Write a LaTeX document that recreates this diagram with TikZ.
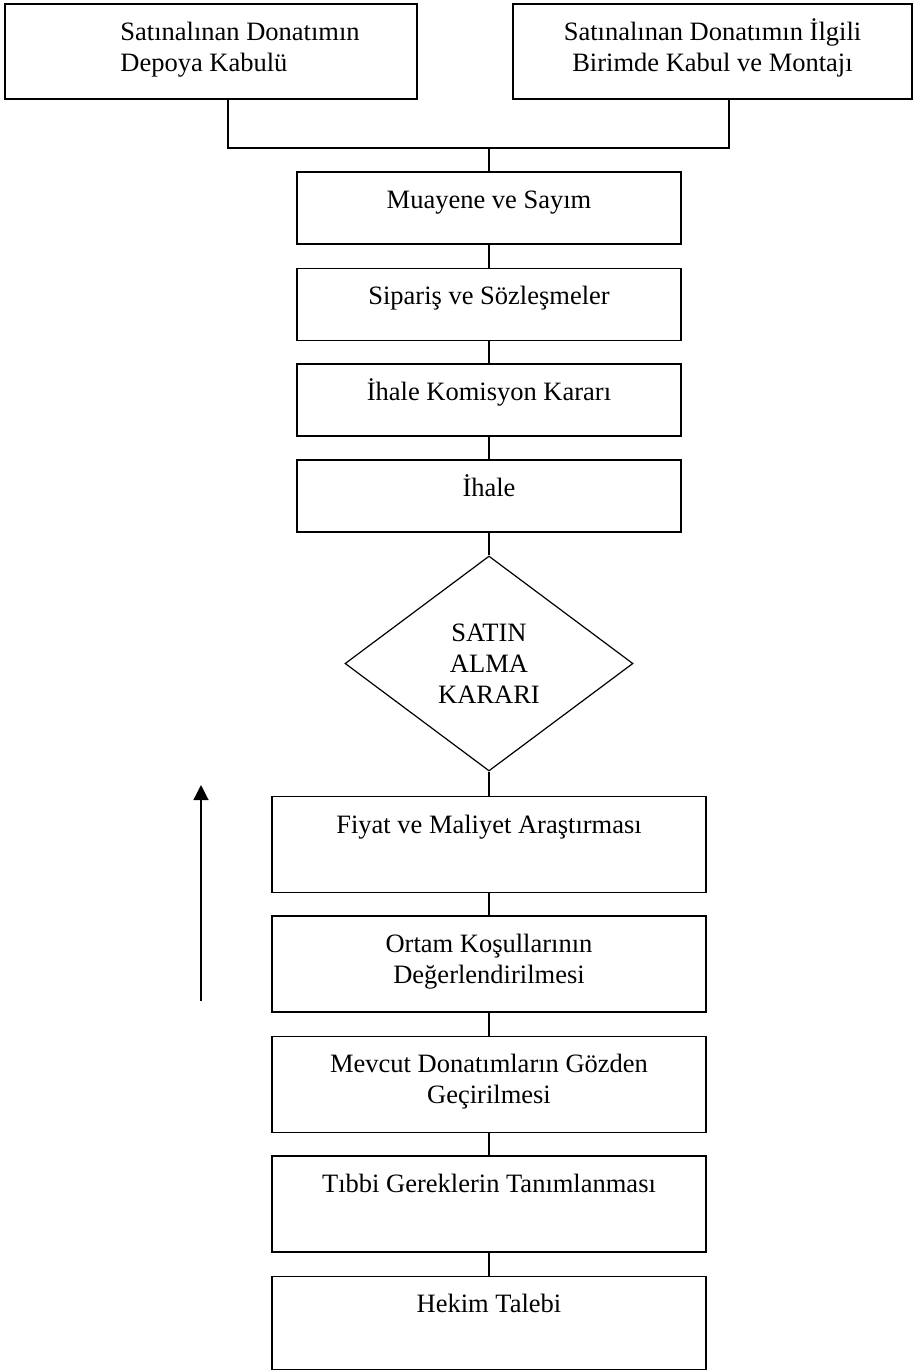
\documentclass[tikz,border=0pt]{standalone}
\usepackage{fontspec}
\setmainfont{Liberation Serif}
\usetikzlibrary{shapes.geometric,arrows.meta}
\newcommand\boxfont{\fontsize{13.25pt}{15.5pt}\selectfont}
\tikzset{
  box/.style={draw, line width=0.6pt, rectangle, inner sep=0pt},
  upbox/.style={box, minimum width=192pt, minimum height=36pt},
  lowbox/.style={box, minimum width=217pt, minimum height=48pt},
  txt/.style={anchor=north, inner sep=0pt, align=center, font=\boxfont},
  conn/.style={line width=0.6pt},
}
\begin{document}
\begin{tikzpicture}[x=0.5pt,y=-0.5pt]
\useasboundingbox (0,0) rectangle (915,1372);
% top boxes
\node[box, minimum width=206pt, minimum height=47.5pt] (L) at (211,51.5) {};
\node[box, minimum width=199.5pt, minimum height=47.5pt] (R) at (712.5,51.5) {};
\node[txt, anchor=north west, align=left] (Lt) at (120,18.3) {\strut Satınalınan Donatımın\\Depoya Kabulü};
\node[txt] (Rt) at (712.5,18.3) {\strut Satınalınan Donatımın İlgili\\Birimde Kabul ve Montajı};
% upper column
\node[upbox] (muay) at (489,208) {};
\node[txt] (muayt) at (489,186.3) {\strut Muayene ve Sayım};
\node[upbox] (sip) at (489,304.5) {};
\node[txt] (sipt) at (489,282.3) {\strut Sipariş ve Sözleşmeler};
\node[upbox] (kom) at (489,400) {};
\node[txt] (komt) at (489,378.3) {\strut İhale Komisyon Kararı};
\node[upbox] (ihale) at (489,496) {};
\node[txt] (ihalet) at (489,474.3) {\strut İhale};
% decision
\node[draw, line width=0.6pt, diamond, inner sep=0pt, minimum width=144pt, minimum height=107.5pt, align=center, font=\boxfont] (karar) at (489,663.5) {SATIN\\ALMA\\KARARI};
% lower column
\node[lowbox] (fiyat) at (489,844.5) {};
\node[txt] (fiyatt) at (489,811.3) {\strut Fiyat ve Maliyet Araştırması};
\node[lowbox] (ortam) at (489,964) {};
\node[txt] (ortamt) at (489,930.3) {\strut Ortam Koşullarının\\Değerlendirilmesi};
\node[lowbox] (mevcut) at (489,1084.5) {};
\node[txt] (mevcutt) at (489,1050.3) {\strut Mevcut Donatımların Gözden\\Geçirilmesi};
\node[lowbox] (tibbi) at (489,1204) {};
\node[txt] (tibbit) at (489,1170.3) {\strut Tıbbi Gereklerin Tanımlanması};
\node[lowbox, minimum height=46.5pt] (hekim) at (489,1323) {};
\node[txt] (hekimt) at (489,1290.3) {\strut Hekim Talebi};
% junction
\coordinate (jl) at (228,148);
\coordinate (jr) at (729,148);
\coordinate (jm) at (489,148);
\draw[conn] (L.south -| jl) -- (jl) -- (jr) -- (R.south -| jr);
\draw[conn] (jm) -- (muay.north);
\draw[conn] (muay.south) -- (sip.north);
\draw[conn] (sip.south) -- (kom.north);
\draw[conn] (kom.south) -- (ihale.north);
\draw[conn] (ihale.south) -- (karar.north);
\draw[conn] (karar.south) -- (fiyat.north);
\draw[conn] (fiyat.south) -- (ortam.north);
\draw[conn] (ortam.south) -- (mevcut.north);
\draw[conn] (mevcut.south) -- (tibbi.north);
\draw[conn] (tibbi.south) -- (hekim.north);
% direction arrow
\coordinate (a1) at (201,1001);
\coordinate (a2) at (201,785);
\draw[conn, -{Triangle[length=7.5pt,width=7.5pt]}] (a1) -- (a2);
\end{tikzpicture}
\end{document}
